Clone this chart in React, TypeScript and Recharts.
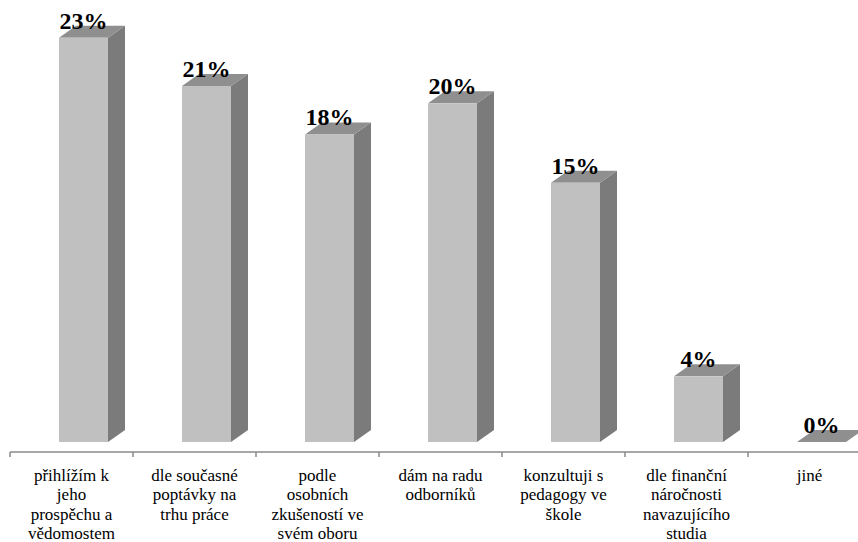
import React from 'react';
import { BarChart, Bar, XAxis, YAxis, LabelList } from 'recharts';

const categories = [
  'přihlížím k jeho prospěchu a vědomostem',
  'dle současné poptávky na trhu práce',
  'podle osobních zkušeností ve svém oboru',
  'dám na radu odborníků',
  'konzultuji s pedagogy ve škole',
  'dle finanční náročnosti navazujícího studia',
  'jiné',
];
const categoryLines = [
  ['přihlížím k', 'jeho', 'prospěchu a', 'vědomostem'],
  ['dle současné', 'poptávky na', 'trhu práce'],
  ['podle', 'osobních', 'zkušeností ve', 'svém oboru'],
  ['dám na radu', 'odborníků'],
  ['konzultuji s', 'pedagogy ve', 'škole'],
  ['dle finanční', 'náročnosti', 'navazujícího', 'studia'],
  ['jiné'],
];
const values = [23.4, 20.6, 17.8, 19.6, 15.0, 3.8, 0];
const valueLabels = ['23%', '21%', '18%', '20%', '15%', '4%', '0%'];

const data = categories.map((name, i) => ({ name, value: values[i], label: valueLabels[i] }));

const W = 900;
const H = 542;
const MARGIN = { top: 20, right: 29, bottom: 0, left: 10 };
const BAND = (W - MARGIN.left - MARGIN.right) / categories.length;
const DX = 17;
const DY = 12;
const SHIFT = 12;
const LIFT = 10;
const SERIF = 'Liberation Serif';

function Bar3D(props: any) {
  const { x, y, width, height } = props;
  const w = width;
  const h = Math.max(0, height || 0);
  const fx = x + SHIFT;
  const fy = y - LIFT;
  return (
    <g>
      {h > 0 && (
        <polygon
          points={`${fx + w},${fy} ${fx + w + DX},${fy - DY} ${fx + w + DX},${fy + h - DY} ${fx + w},${fy + h}`}
          fill="#7b7b7b"
        />
      )}
      <polygon
        points={`${fx},${fy} ${fx + DX},${fy - DY} ${fx + w + DX},${fy - DY} ${fx + w},${fy}`}
        fill="#8f8f8f"
      />
      {h > 0 && <rect x={fx} y={fy} width={w} height={h} fill="#c0c0c0" />}
    </g>
  );
}

function ValueLabel(props: any) {
  const { x, y, width, value } = props;
  const cx = x + SHIFT + width / 2;
  return (
    <text
      x={cx}
      y={y - LIFT - 9}
      textAnchor="middle"
      fontFamily={SERIF}
      fontWeight={700}
      fontSize={24}
      fill="#000"
    >
      {value}
    </text>
  );
}

function CategoryTick(props: any) {
  const { x, y, payload } = props;
  const idx = categories.indexOf(payload.value);
  const lines = categoryLines[idx] || [];
  const left = x - BAND / 2;
  return (
    <g>
      <line x1={left} y1={y} x2={left} y2={y + 5} stroke="#8a8a8a" strokeWidth={1.5} />
      <text x={x} y={y + 28.5} textAnchor="middle" fontFamily={SERIF} fontSize={17} fill="#000">
        {lines.map((l, i) => (
          <tspan key={i} x={x} y={y + 28.5 + i * 19.5}>
            {l}
          </tspan>
        ))}
      </text>
    </g>
  );
}

export default function App() {
  return (
    <div
      style={{
        position: 'absolute',
        left: 0,
        top: 0,
        width: 858,
        height: 542,
        overflow: 'hidden',
        background: '#fff',
      }}
    >
      <BarChart width={W} height={H} data={data} margin={MARGIN} barSize={49}>
        <YAxis hide domain={[0, 25]} />
        <XAxis
          dataKey="name"
          height={90}
          interval={0}
          tickLine={false}
          tickSize={0}
          tickMargin={0}
          axisLine={{ stroke: '#8a8a8a', strokeWidth: 1.5 }}
          tick={<CategoryTick />}
        />
        <Bar dataKey="value" isAnimationActive={false} shape={<Bar3D />}>
          <LabelList dataKey="label" content={<ValueLabel />} />
        </Bar>
      </BarChart>
    </div>
  );
}
